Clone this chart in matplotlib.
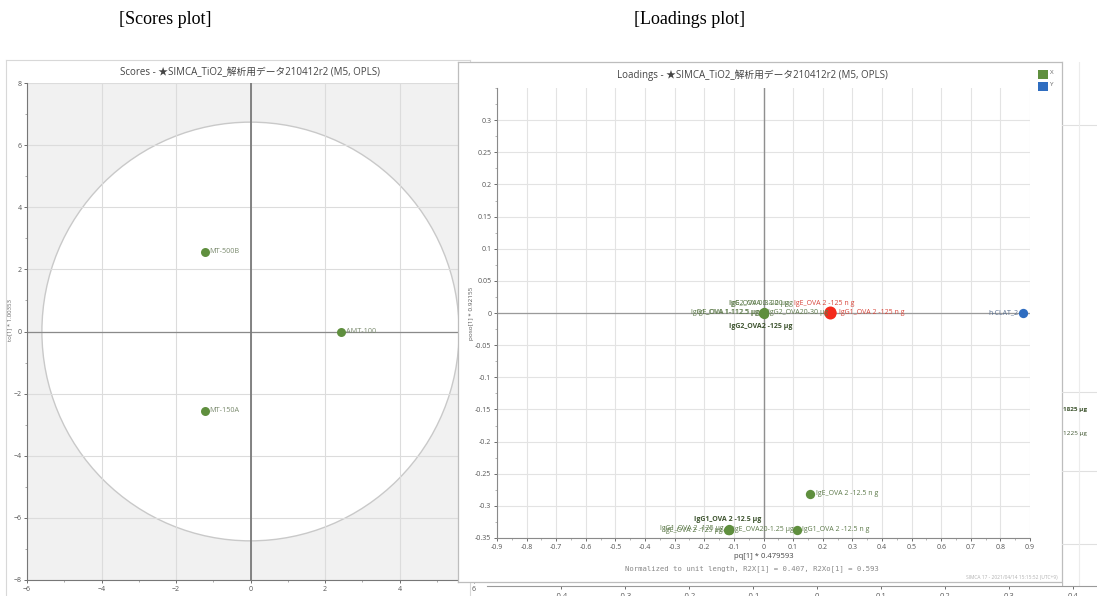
import matplotlib
matplotlib.use("Agg")
import matplotlib.pyplot as plt
import numpy as np
from matplotlib.patches import Ellipse, Rectangle
from matplotlib.ticker import MultipleLocator, FuncFormatter

plt.rcParams['font.family'] = ['Open Sans', 'Noto Sans CJK JP', 'DejaVu Sans']

W, H = 1097, 596


def px_rect(x0, y0, x1, y1):
    # pixel box (top-left origin) -> figure fraction rect
    return [x0 / W, 1 - y1 / H, (x1 - x0) / W, (y1 - y0) / H]


def tick_fmt(v, p):
    v = round(v, 2)
    if abs(v) < 1e-9:
        return "0"
    return f"{v:g}"


# ---- scores data ----
score_names = ["MT-500B", "AMT-100", "MT-150A"]
score_t = [-1.23, 2.44, -1.23]
score_to = [2.57, 0.0, -2.55]
t2_radius = (5.6, 6.74)   # Hotelling T2 ellipse half-widths

# ---- loadings data ----
load_names = ["IgG1_OVA 1-112.5 μg", "IgE_OVA 1-112.5 μg",
              "IgG2_OVA 0.3-20 μg", "IgE_OVA 0.3-20 μg",
              "IgG2_OVA2 -125 μg", "IgG2_OVA20-30 μg",
              "IgE_OVA 2 -125 n g", "IgG1_OVA 2 -125 n g",
              "IgE_OVA 2 -12.5 n g",
              "IgG1_OVA 2 -12.5 μg", "IgE_OVA 2 -125 μg", "IgG1_OVA 2 -125 μg",
              "IgE_OVA20-1.25 μg", "IgG1_OVA 2 -12.5 n g",
              "h-CLAT_2"]
load_pq = [-0.002, -0.001, 0.0, 0.001, 0.0, 0.002,
           0.225, 0.226, 0.158,
           -0.118, -0.119, -0.117, -0.116, 0.112, 0.878]
load_poso = [0.0, 0.0, 0.001, 0.0, -0.001, 0.0,
             0.001, 0.0, -0.281,
             -0.337, -0.338, -0.336, -0.337, -0.337, 0.0]
load_block = ["X"] * 14 + ["Y"]
selected = ["IgE_OVA 2 -125 n g", "IgG1_OVA 2 -125 n g"]

# label placement (offset in points, alignment)
place = {
    "IgG1_OVA 1-112.5 μg": (-3, 0, "right", "center"),
    "IgE_OVA 1-112.5 μg": (-3, 0, "right", "center"),
    "IgG2_OVA 0.3-20 μg": (-25, 6.5, "left", "center"),
    "IgE_OVA 0.3-20 μg": (-24, 6.5, "left", "center"),
    "IgG2_OVA2 -125 μg": (-25, -9, "left", "center"),
    "IgG2_OVA20-30 μg": (3, 0, "left", "center"),
    "IgE_OVA 2 -125 n g": (-26, 6.5, "left", "center"),
    "IgG1_OVA 2 -125 n g": (6, 0, "left", "center"),
    "IgE_OVA 2 -12.5 n g": (4, 0, "left", "center"),
    "IgG1_OVA 2 -12.5 μg": (-25, 7.5, "left", "center"),
    "IgE_OVA 2 -125 μg": (-4, 0, "right", "center"),
    "IgG1_OVA 2 -125 μg": (-4, 0, "right", "center"),
    "IgE_OVA20-1.25 μg": (3, 0, "left", "center"),
    "IgG1_OVA 2 -12.5 n g": (4, 0, "left", "center"),
    "h-CLAT_2": (-4, 0, "right", "center"),
}
bold_labels = ["IgG2_OVA2 -125 μg", "IgG1_OVA 2 -12.5 μg"]

green = "#5f8f3e"
blue = "#2f6dc0"
red = "#f42a1c"
txt_green = "#5d7a4a"
tick_col = "#555555"

fig = plt.figure(figsize=(W / 100, H / 100), dpi=100)

fig.text(165 / W, 1 - 20 / H, "[Scores plot]", family="Liberation Serif",
         fontsize=13, ha="center", va="center")
fig.text(690 / W, 1 - 20 / H, "[Loadings plot]", family="Liberation Serif",
         fontsize=13, ha="center", va="center")

# ---------------- scores window ----------------
win = fig.add_axes(px_rect(6, 60, 470, 600))
win.set_xticks([]); win.set_yticks([])
win.set_facecolor("white")
for s in win.spines.values():
    s.set_color("#d8d8d8"); s.set_linewidth(0.8)

ax = fig.add_axes(px_rect(27, 83, 474, 580))
ax.set_xlim(-6, 6)
ax.set_ylim(-8, 8)
ax.set_facecolor("#f1f1f1")
ax.add_patch(Ellipse((0, 0), 2 * t2_radius[0], 2 * t2_radius[1],
                     facecolor="white", edgecolor="#c9c9c9", lw=1.0, zorder=0.3))
ax.xaxis.set_major_locator(MultipleLocator(2))
ax.yaxis.set_major_locator(MultipleLocator(2))
ax.xaxis.set_minor_locator(MultipleLocator(1))
ax.yaxis.set_minor_locator(MultipleLocator(1))
ax.set_axisbelow(True)
ax.grid(True, color="#dcdcdc", lw=0.8)
ax.axhline(0, color="#8a8a8a", lw=0.9, zorder=1)
ax.axvline(0, color="#7a7a7a", lw=1.3, zorder=1)
for k in ["top", "right"]:
    ax.spines[k].set_visible(False)
for k in ["left", "bottom"]:
    ax.spines[k].set_color("#777777")
    ax.spines[k].set_linewidth(0.8)
ax.tick_params(labelsize=5, colors=tick_col, length=2.5, width=0.6, pad=1.5)
ax.tick_params(which="minor", length=1.5, width=0.5, colors="#888888")
ax.scatter(score_t, score_to, s=42, color=green, zorder=3, linewidths=0)
for n, xv, yv in zip(score_names, score_t, score_to):
    ax.annotate(n, (xv, yv), xytext=(3.5, 0), textcoords="offset points",
                fontsize=5.2, color="#7a8a6e", va="center", ha="left")
ax.set_title("Scores - ★SIMCA_TiO2_解析用データ210412r2 (M5, OPLS)",
             fontsize=7, color="#444444", pad=6)
fig.text(10 / W, 1 - 320 / H, "to[1] * 1.00353", rotation=90, fontsize=4.3,
         color="#666666", ha="center", va="center")

# ---------------- loadings window ----------------
frame = fig.add_axes(px_rect(458, 62, 1062, 582))
frame.set_xticks([]); frame.set_yticks([])
frame.set_facecolor("white")
for s in frame.spines.values():
    s.set_color("#bdbdbd"); s.set_linewidth(0.9)

la = fig.add_axes(px_rect(497, 88, 1030, 538))
la.set_xlim(-0.9, 0.9)
la.set_ylim(-0.35, 0.35)
la.set_facecolor("none")
la.set_xticks(np.round(np.arange(-0.9, 0.91, 0.1), 2))
la.set_yticks(np.round(np.arange(-0.35, 0.31, 0.05), 2))
la.xaxis.set_minor_locator(MultipleLocator(0.05))
la.yaxis.set_minor_locator(MultipleLocator(0.025))
la.xaxis.set_major_formatter(FuncFormatter(tick_fmt))
la.yaxis.set_major_formatter(FuncFormatter(tick_fmt))
la.set_axisbelow(True)
la.grid(True, color="#e3e3e3", lw=0.8)
la.axhline(0, color="#9a9a9a", lw=0.9, zorder=1)
la.axvline(0, color="#8f8f8f", lw=1.0, zorder=1)
for k in ["top", "right"]:
    la.spines[k].set_visible(False)
for k in ["left", "bottom"]:
    la.spines[k].set_color("#8a8a8a")
    la.spines[k].set_linewidth(0.8)
la.tick_params(labelsize=5, colors=tick_col, length=2.5, width=0.6, pad=1.5)
la.tick_params(which="minor", length=1.5, width=0.5, colors="#999999")

for n, xv, yv, b in zip(load_names, load_pq, load_poso, load_block):
    if n in selected:
        c, sz, tc = red, 75, "#d8473c"
    elif b == "Y":
        c, sz, tc = blue, 45, "#5a6f8f"
    else:
        c, sz, tc = green, 45, txt_green
    la.scatter([xv], [yv], s=sz, color=c, zorder=3, linewidths=0)
    dx, dy, ha, va = place[n]
    la.annotate(n, (xv, yv), xytext=(dx, dy), textcoords="offset points",
                fontsize=5, color=("#3f5530" if n in bold_labels else tc),
                fontweight=("bold" if n in bold_labels else "normal"),
                ha=ha, va=va, zorder=4)

la.set_title("Loadings - ★SIMCA_TiO2_解析用データ210412r2 (M5, OPLS)",
             fontsize=7, color="#444444", pad=7, x=0.48)
la.set_xlabel("pq[1] * 0.479593", fontsize=5.5, color="#444444", labelpad=2)
fig.text(472 / W, 1 - 313 / H, "poso[1] * 0.92155", rotation=90, fontsize=4.6,
         color="#555555", ha="center", va="center")
fig.text(752 / W, 1 - 569 / H,
         "Normalized to unit length, R2X[1] = 0.407, R2Xo[1] = 0.593",
         family="DejaVu Sans Mono", fontsize=5.2, color="#888888",
         ha="center", va="center")
fig.text(1058 / W, 1 - 577 / H, "SIMCA 17 - 2021/04/14 15:15:52 (UTC+9)",
         fontsize=3.5, color="#b0b0b0", ha="right", va="center")

# legend squares
for i, (lab, c) in enumerate([("X", green), ("Y", blue)]):
    yt = 70 + i * 12
    fig.patches.append(Rectangle((1038 / W, 1 - (yt + 9) / H), 10 / W, 9 / H,
                                 transform=fig.transFigure, facecolor=c,
                                 edgecolor="none"))
    fig.text(1050 / W, 1 - (yt + 3) / H, lab, fontsize=4.5, color="#666666",
             ha="left", va="center")

# ---------------- neighbouring windows (partly hidden) ----------------
side = fig.add_axes(px_rect(1062, 62, 1100, 586))
side.set_xticks([]); side.set_yticks([])
side.set_xlim(0, 1); side.set_ylim(0, 1)
side.set_facecolor("white")
for s in side.spines.values():
    s.set_visible(False)
side.axvline(0, color="#bdbdbd", lw=0.9)
for yy in [0.88, 0.37, 0.22, 0.08]:
    side.axhline(yy, color="#e0e0e0", lw=0.8)
side.axvline(0.45, color="#ececec", lw=0.8)
side.text(0.02, 1 - (410 - 62) / 524, "1825 μg", fontsize=4.6, color="#3f5530",
          fontweight="bold", va="center")
side.text(0.02, 1 - (433 - 62) / 524, "1225 μg", fontsize=4.6, color="#3f5530",
          va="center")

bot = fig.add_axes(px_rect(487, 585, 1097, 586))
bot.set_facecolor("none")
bot.set_xlim((487 - 817) / 640, (1097 - 817) / 640)
bot.set_yticks([])
bot.set_xticks([-0.4, -0.3, -0.2, -0.1, 0, 0.1, 0.2, 0.3, 0.4])
bot.xaxis.set_major_formatter(FuncFormatter(tick_fmt))
bot.tick_params(labelsize=5.5, colors=tick_col, length=2, width=0.6, pad=3)
for k in ["top", "left", "right"]:
    bot.spines[k].set_visible(False)
bot.spines["bottom"].set_color("#9a9a9a")

fig.savefig("out.png", dpi=100, facecolor="white")
